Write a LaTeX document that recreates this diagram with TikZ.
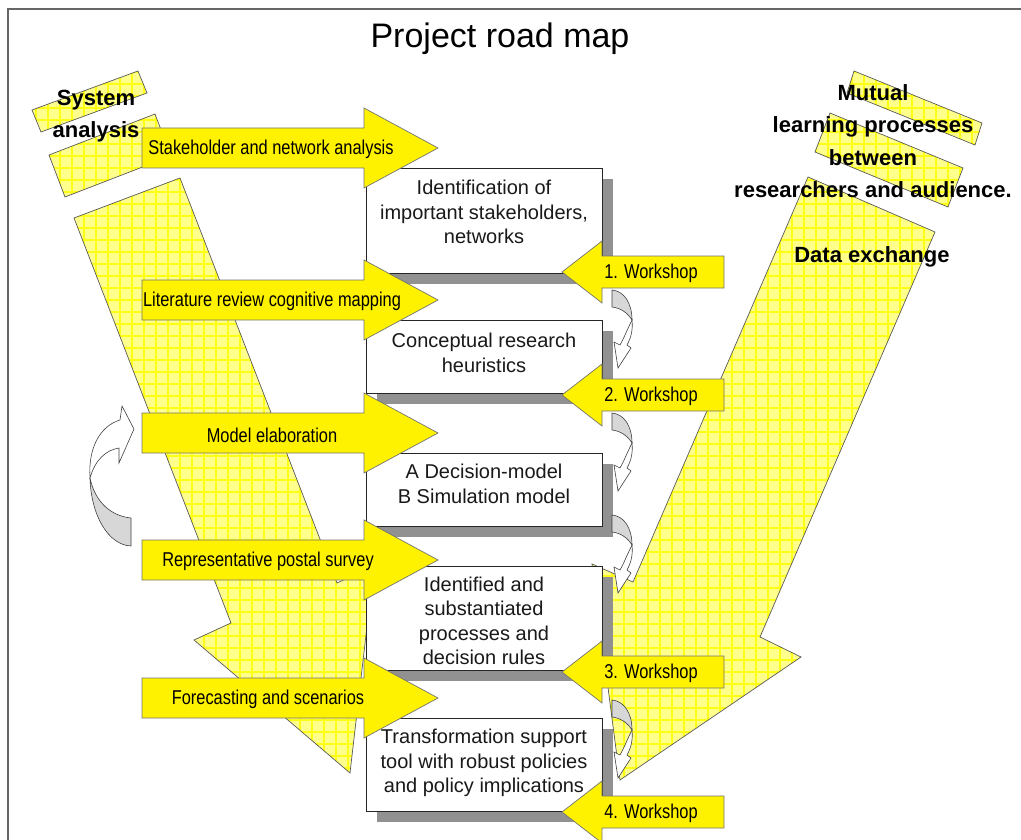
\documentclass[tikz,border=0pt]{standalone}
\usepackage{fontspec}
\usepackage{tikz}
\usetikzlibrary{shadows}
\setmainfont{Liberation Sans}
\newfontfamily\narrowfont[FakeStretch=0.82]{Liberation Sans}
\definecolor{patchyellow}{RGB}{255,255,140}
\definecolor{gridyellow}{RGB}{255,255,20}
\definecolor{shadowgray}{RGB}{145,145,145}
\definecolor{backgray}{RGB}{215,215,215}

\begin{document}
\begin{tikzpicture}[x=1pt, y=-1pt]
	% Define style
	\tikzset{
		patch/.style={draw=black!65, line width=0.7pt, fill=patchyellow, path picture={\draw[gridyellow, line width=1.6pt] (path picture bounding box.south west) grid[step=12pt] (path picture bounding box.north east);}},
		blockarrow/.style={draw=black!55, line width=0.7pt, fill=yellow},
		box/.style={rectangle, draw=black!85, line width=0.9pt, fill=white, minimum width=236pt, inner sep=0pt, general shadow={fill=shadowgray, shadow xshift=11pt, shadow yshift=-11pt}},
		boxtext/.style={align=center, inner sep=0pt, text=black!90, font=\fontsize{20}{24.5}\selectfont},
		arrowtext/.style={font=\narrowfont\fontsize{20}{24}\selectfont, inner sep=0pt},
		bigtext/.style={font=\bfseries\fontsize{22}{32.5}\selectfont, align=center, inner sep=0pt},
		bendarrow/.pic={
			\draw[black!75, line width=0.6pt, fill=backgray] (0,0) .. controls (12,1) and (20,13) .. (20,30) .. controls (15,22) and (8,18) .. (0,17) -- cycle;
			\draw[black!75, line width=0.6pt, fill=white] (20,30) .. controls (21,40) and (19,48) .. (15,55) -- (19,58) -- (6,78) -- (2,52) -- (8,55) .. controls (12,48) and (15,40) .. (20,30) -- cycle;
		}
	}
	\useasboundingbox (0,0) rectangle (1021,840);
	\draw[black!60, line width=1.2pt] (8,840) -- (8,9) -- (1021,9);
	
	% Define blocks
	\draw[patch] (74,218) -- (180,178) -- (337,583) -- (374,566) -- (350,773) -- (194,640) -- (231,623) -- cycle;
	\draw[patch] (808,177) -- (935,232) -- (760,637) -- (801,657) -- (620,780) -- (592,564) -- (633,582) -- cycle;
	\draw[patch] (32,110) -- (138,71) -- (147,93) -- (41,132) -- cycle;
	\draw[patch] (49,155) -- (155,114) -- (171,156) -- (65,197) -- cycle;
	\draw[patch] (854,71) -- (982,123) -- (975,145) -- (847,93) -- cycle;
	\draw[patch] (830,113) -- (963,168) -- (948,207) -- (815,152) -- cycle;
	\node[bigtext] (system) at (96,116) {System\\analysis};
	\node[bigtext] (mutual) at (873,141) {Mutual\\learning processes\\between\\researchers and audience.};
	\node[bigtext] (exchange) at (872,257) {Data exchange};
	\node[font=\fontsize{34}{40}\selectfont, inner sep=0pt] (title) at (500,39) {Project road map};
	
	\node[box, minimum height=105pt] (identify) at (484,220.5) {};
	\node[boxtext] (identifytext) at (484,212) {Identification of\\important stakeholders,\\networks};
	\node[box, minimum height=73pt] (concept) at (484,356.5) {};
	\node[boxtext] (concepttext) at (484,353) {Conceptual research\\heuristics};
	\node[box, minimum height=73pt] (models) at (484,489.5) {};
	\node[boxtext] (modelstext) at (484,484) {A Decision-model\\B Simulation model};
	\node[box, minimum height=104pt] (rules) at (484,618) {};
	\node[boxtext] (rulestext) at (484,621) {Identified and\\substantiated\\processes and\\decision rules};
	\node[box, minimum height=93pt] (tool) at (484,764.5) {};
	\node[boxtext] (tooltext) at (484,763) {Transformation support\\tool with robust policies\\and policy implications};
	
	% Define arrows
	\draw[blockarrow] (142,128) -| (364,108) -- (438,148) -- (364,188) |- (142,168) -- cycle;
	\node[arrowtext] (stakeholder) at (271,149) {Stakeholder and network analysis};
	\draw[blockarrow] (142,280) -| (364,260) -- (438,300) -- (364,340) |- (142,320) -- cycle;
	\node[arrowtext] (literature) at (272,301) {Literature review cognitive mapping};
	\draw[blockarrow] (142,413) -| (364,393) -- (438,433) -- (364,473) |- (142,453) -- cycle;
	\node[arrowtext] (elaboration) at (272,435) {Model elaboration};
	\draw[blockarrow] (142,540) -| (364,520) -- (438,560) -- (364,600) |- (142,580) -- cycle;
	\node[arrowtext] (survey) at (268,561) {Representative postal survey};
	\draw[blockarrow] (142,678) -| (364,658) -- (438,698) -- (364,738) |- (142,718) -- cycle;
	\node[arrowtext] (forecast) at (268,699) {Forecasting and scenarios};
	
	\draw[blockarrow] (724,256) -| (602,241) -- (562,272) -- (602,303) |- (724,288) -- cycle;
	\node[arrowtext] (ws1) at (651,273) {1. Workshop};
	\draw[blockarrow] (724,379) -| (602,364) -- (562,395) -- (602,426) |- (724,411) -- cycle;
	\node[arrowtext] (ws2) at (651,396) {2. Workshop};
	\draw[blockarrow] (724,656) -| (602,641) -- (562,672) -- (602,703) |- (724,688) -- cycle;
	\node[arrowtext] (ws3) at (651,673) {3. Workshop};
	\draw[blockarrow] (724,796) -| (602,781) -- (562,812) -- (602,843) |- (724,828) -- cycle;
	\node[arrowtext] (ws4) at (651,813) {4. Workshop};
	
	\pic at (612,290) {bendarrow};
	\pic at (612,413) {bendarrow};
	\pic at (612,515) {bendarrow};
	\pic at (612,700) {bendarrow};
	\draw[black!75, line width=0.6pt, fill=backgray] (90,478) .. controls (91,515) and (108,545) .. (131,546) -- (131,518) .. controls (111,516) and (95,502) .. (90,478) -- cycle;
	\draw[black!75, line width=0.6pt, fill=white] (90,478) .. controls (88,448) and (100,426) .. (120,420) -- (122,406) -- (134,429) -- (119,463) -- (119,448) .. controls (106,450) and (95,460) .. (90,478) -- cycle;
\end{tikzpicture}
\end{document}
